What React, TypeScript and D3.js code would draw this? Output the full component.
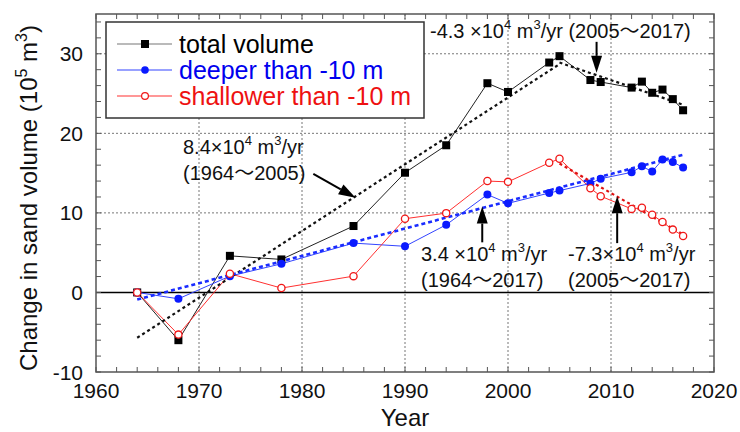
import React from "react";
import * as d3 from "d3";

const years = [1964, 1968, 1973, 1978, 1985, 1990, 1994, 1998, 2000, 2004, 2005, 2008, 2009, 2012, 2013, 2014, 2015, 2016, 2017];
const totalVolume = [0, -6.0, 4.6, 4.15, 8.35, 15.05, 18.5, 26.3, 25.2, 28.9, 29.7, 26.7, 26.45, 25.75, 26.5, 25.1, 25.5, 24.3, 22.9];
const deeper = [0, -0.8, 2.05, 3.6, 6.2, 5.8, 8.5, 12.3, 11.2, 12.5, 12.8, 13.7, 14.3, 15.1, 15.85, 15.2, 16.7, 16.4, 15.7];
const shallower = [0, -5.3, 2.35, 0.55, 2.05, 9.27, 9.97, 14.0, 13.9, 16.3, 16.8, 13.1, 12.1, 10.5, 10.65, 9.77, 8.85, 7.9, 7.1];

// trend lines: [x0, y0, x1, y1]
const trendTotalUp = [1964, -5.7, 2005, 28.7];
const trendTotalDown = [2005, 28.9, 2017, 23.6];
const trendDeeper = [1964, -0.9, 2017, 17.3];
const trendShallower = [2005, 16.2, 2017, 7.3];

const xTicks = [1960, 1970, 1980, 1990, 2000, 2010, 2020];
const yTicks = [-10, 0, 10, 20, 30];
const legendLabels = ["total volume", "deeper than -10 m", "shallower than -10 m"];

const W = 740, H = 432;
const L = 96, R = 714, T = 14, B = 372;

const x = d3.scaleLinear().domain([1960, 2020]).range([L, R]);
const y = d3.scaleLinear().domain([-10, 35]).range([B, T]);

const FONT = "'Liberation Sans', Arial, 'Noto Sans CJK JP', sans-serif";

function Arrow({ x0, y0, x1, y1 }: { x0: number; y0: number; x1: number; y1: number }) {
  const px0 = x(x0), py0 = y(y0), px1 = x(x1), py1 = y(y1);
  const dx = px1 - px0, dy = py1 - py0;
  const len = Math.sqrt(dx * dx + dy * dy);
  const ux = dx / len, uy = dy / len;
  const hl = 17, hw = 5.5;
  const bx = px1 - ux * hl, by = py1 - uy * hl;
  const pts = [
    [px1, py1],
    [bx - uy * hw, by + ux * hw],
    [bx + uy * hw, by - ux * hw],
  ];
  return (
    <g>
      <line x1={px0} y1={py0} x2={bx} y2={by} stroke="#000" strokeWidth={2} />
      <polygon points={pts.map((p) => p.join(",")).join(" ")} fill="#000" />
    </g>
  );
}

export default function App() {
  const lineGen = (vals: number[]) =>
    d3.line<number>().x((_, i) => x(years[i])).y((v) => y(v))(vals) as string;

  const minorX = d3.range(1960, 2021, 2);
  const minorY = d3.range(-10, 35.1, 2);
  const tl = 5;

  const trend = (t: number[], color: string, dash: string, w: number) => (
    <line x1={x(t[0])} y1={y(t[1])} x2={x(t[2])} y2={y(t[3])} stroke={color} strokeWidth={w} strokeDasharray={dash} />
  );

  const annFont = 20;
  const supProps = { fontSize: 13, dy: -9 };

  return (
    <svg width={W} height={H} style={{ position: "absolute", left: 0, top: 0, background: "#fff" }} fontFamily={FONT}>
      <rect x={0} y={0} width={W} height={H} fill="#fff" />
      {/* grid */}
      {xTicks.filter((t) => t > 1960 && t < 2020).map((t) => (
        <line key={"gx" + t} x1={x(t)} x2={x(t)} y1={T} y2={B} stroke="#777" strokeWidth={1} strokeDasharray="2,2" />
      ))}
      {[10, 20, 30].map((t) => (
        <line key={"gy" + t} x1={L} x2={R} y1={y(t)} y2={y(t)} stroke="#777" strokeWidth={1} strokeDasharray="2,2" />
      ))}
      {/* zero line */}
      <line x1={L} x2={R} y1={y(0)} y2={y(0)} stroke="#000" strokeWidth={1.6} />

      {/* ticks */}
      {minorX.map((t) => (
        <g key={"tx" + t}>
          <line x1={x(t)} x2={x(t)} y1={B} y2={B - tl} stroke="#555" strokeWidth={1} />
          <line x1={x(t)} x2={x(t)} y1={T} y2={T + tl} stroke="#555" strokeWidth={1} />
        </g>
      ))}
      {minorY.map((t) => (
        <g key={"ty" + t}>
          <line x1={L} x2={L + tl} y1={y(t)} y2={y(t)} stroke="#555" strokeWidth={1} />
          <line x1={R} x2={R - tl} y1={y(t)} y2={y(t)} stroke="#555" strokeWidth={1} />
        </g>
      ))}
      <rect x={L} y={T} width={R - L} height={B - T} fill="none" stroke="#555" strokeWidth={1.5} />

      {/* tick labels */}
      {xTicks.map((t) => (
        <text key={"lx" + t} x={x(t)} y={398} textAnchor="middle" fontSize={21} fill="#111">{t}</text>
      ))}
      {yTicks.map((t) => (
        <text key={"ly" + t} x={83} y={y(t) + 7.5} textAnchor="end" fontSize={21} fill="#111">{t}</text>
      ))}
      <text x={405} y={426} textAnchor="middle" fontSize={24} fill="#111">Year</text>
      <text transform="translate(37,198) rotate(-90)" textAnchor="middle" fontSize={24} fill="#111">
        Change in sand volume (10<tspan fontSize={16} dy={-10}>5</tspan><tspan dy={10}> m</tspan><tspan fontSize={16} dy={-10}>3</tspan><tspan dy={10}>)</tspan>
      </text>

      {/* data lines */}
      <path d={lineGen(totalVolume)} fill="none" stroke="#222" strokeWidth={1} />
      <path d={lineGen(deeper)} fill="none" stroke="#3344ff" strokeWidth={1} />
      <path d={lineGen(shallower)} fill="none" stroke="#ff3030" strokeWidth={1} />

      {/* trend lines */}
      {trend(trendTotalUp, "#111", "3,3", 2.2)}
      {trend(trendTotalDown, "#111", "3,3", 2.2)}
      {trend(trendDeeper, "#1a2cff", "4,3", 2.6)}
      {trend(trendShallower, "#e01010", "3,3", 2.2)}

      {/* markers */}
      {totalVolume.map((v, i) => (
        <rect key={"sq" + i} x={x(years[i]) - 4} y={y(v) - 4} width={8} height={8} fill="#000" />
      ))}
      {deeper.map((v, i) => (
        <circle key={"bc" + i} cx={x(years[i])} cy={y(v)} r={4} fill="#0a1aff" />
      ))}
      {shallower.map((v, i) => (
        <circle key={"rc" + i} cx={x(years[i])} cy={y(v)} r={3.6} fill="#fff" stroke="#f01818" strokeWidth={1.3} />
      ))}

      {/* annotations */}
      <text x={430} y={38} fontSize={annFont} fill="#111">
        -4.3 ×10<tspan {...supProps}>4</tspan><tspan dy={9}> m</tspan><tspan {...supProps}>3</tspan><tspan dy={9}>/yr (2005～2017)</tspan>
      </text>
      <Arrow x0={2008.6} y0={31.5} x1={2008.6} y1={27.6} />

      <text x={183} y={154} fontSize={annFont} fill="#111">
        8.4×10<tspan {...supProps}>4</tspan><tspan dy={9}> m</tspan><tspan {...supProps}>3</tspan><tspan dy={9}>/yr</tspan>
      </text>
      <text x={183} y={180} fontSize={annFont} fill="#111">(1964～2005)</text>
      <Arrow x0={1981.1} y0={14.9} x1={1985.2} y1={11.9} />

      <text x={421} y={261} fontSize={annFont} fill="#111">
        3.4 ×10<tspan {...supProps}>4</tspan><tspan dy={9}> m</tspan><tspan {...supProps}>3</tspan><tspan dy={9}>/yr</tspan>
      </text>
      <text x={421} y={287} fontSize={annFont} fill="#111">(1964～2017)</text>
      <Arrow x0={1997.5} y0={6.3} x1={1997.5} y1={10.8} />

      <text x={568} y={261} fontSize={annFont} fill="#111">
        -7.3×10<tspan {...supProps}>4</tspan><tspan dy={9}> m</tspan><tspan {...supProps}>3</tspan><tspan dy={9}>/yr</tspan>
      </text>
      <text x={568} y={287} fontSize={annFont} fill="#111">(2005～2017)</text>
      <Arrow x0={2010.6} y0={6.2} x1={2010.6} y1={12.1} />

      {/* legend */}
      <rect x={106} y={22} width={318} height={96} fill="#fff" stroke="#333" strokeWidth={1.5} />
      {legendLabels.map((lab, i) => {
        const ly = 44 + i * 26;
        const colors = ["#000", "#0000ee", "#ee1111"];
        const lineCol = ["#777", "#3344ff", "#ff3030"];
        return (
          <g key={lab}>
            <line x1={117} x2={172} y1={ly} y2={ly} stroke={lineCol[i]} strokeWidth={1.2} />
            {i === 0 && <rect x={141} y={ly - 4} width={8} height={8} fill="#000" />}
            {i === 1 && <circle cx={145} cy={ly} r={3.8} fill="#0a1aff" />}
            {i === 2 && <circle cx={145} cy={ly} r={3.4} fill="#fff" stroke="#f01818" strokeWidth={1.2} />}
            <text x={179} y={ly + 9} fontSize={25} fill={colors[i]}>{lab}</text>
          </g>
        );
      })}
    </svg>
  );
}
